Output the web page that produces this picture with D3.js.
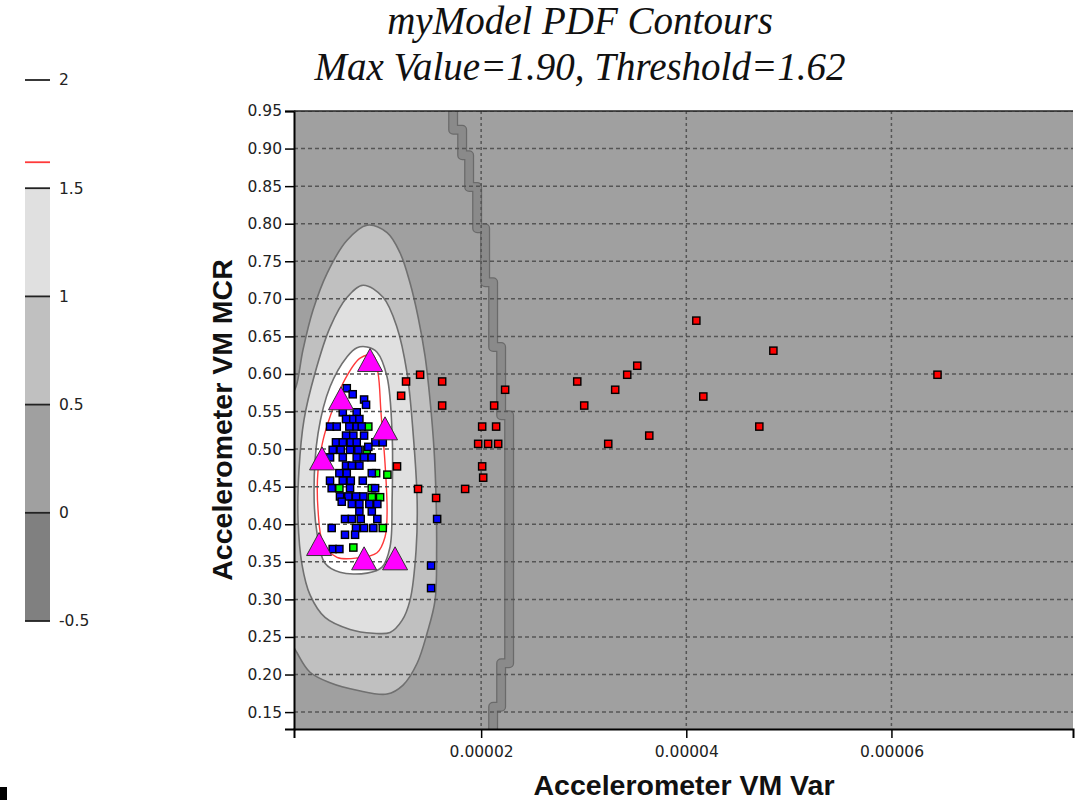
<!DOCTYPE html>
<html>
<head>
<meta charset="utf-8">
<script src="https://cdn.jsdelivr.net/npm/d3@7"></script>
<style>
  html, body { margin: 0; padding: 0; background: #ffffff; }
  svg { display: block; }
</style>
</head>
<body>
<svg id="chart" width="1076" height="800"></svg>
<script>
// ---------------- DATA ----------------
const titleLines = ["myModel PDF Contours", "Max Value=1.90, Threshold=1.62"];
const xLabel = "Accelerometer VM Var";
const yLabel = "Accelerometer VM MCR";

const xDomain = [1.756e-6, 7.77e-5];
const yDomain = [0.1275, 0.95];
const xTicks = [2e-5, 4e-5, 6e-5];
const yTicks = [0.15, 0.20, 0.25, 0.30, 0.35, 0.40, 0.45, 0.50, 0.55, 0.60, 0.65, 0.70, 0.75, 0.80, 0.85, 0.90, 0.95];

const legendLevels = [-0.5, 0, 0.5, 1, 1.5, 2];
const legendBandColors = ["#808080", "#a0a0a0", "#c0c0c0", "#e0e0e0"];
const thresholdLevel = 1.62;

// contour outlines (Var, MCR)
const contour05 = [[8.88e-6,0.798],[10.83e-6,0.788],[12.10e-6,0.761],[13.07e-6,0.721],[13.85e-6,0.676],[14.54e-6,0.623],[15.02e-6,0.565],[15.41e-6,0.499],[15.61e-6,0.432],[15.66e-6,0.366],[15.51e-6,0.299],[14.73e-6,0.255],[13.76e-6,0.215],[12.39e-6,0.186],[10.83e-6,0.174],[7.90e-6,0.179],[5.27e-6,0.189],[3.32e-6,0.203],[2.05e-6,0.229],[0.98e-6,0.259],[0.20e-6,0.352],[0.68e-6,0.499],[1.27e-6,0.565],[1.95e-6,0.583],[2.63e-6,0.632],[3.61e-6,0.685],[4.98e-6,0.734],[6.93e-6,0.778]];
const contour10 = [[8.49e-6,0.718],[10.44e-6,0.702],[11.80e-6,0.662],[12.78e-6,0.601],[13.37e-6,0.521],[13.76e-6,0.432],[13.66e-6,0.366],[13.07e-6,0.299],[12.29e-6,0.272],[11.12e-6,0.256],[9.46e-6,0.255],[7.22e-6,0.260],[4.78e-6,0.276],[3.32e-6,0.306],[2.54e-6,0.346],[2.15e-6,0.406],[2.24e-6,0.472],[2.73e-6,0.539],[3.80e-6,0.601],[5.27e-6,0.662],[6.93e-6,0.702]];
const contour15 = [[8.88e-6,0.636],[9.85e-6,0.629],[10.83e-6,0.596],[11.32e-6,0.521],[11.32e-6,0.432],[11.12e-6,0.370],[10.34e-6,0.343],[8.88e-6,0.335],[6.24e-6,0.336],[4.78e-6,0.348],[4.00e-6,0.388],[3.71e-6,0.442],[4.10e-6,0.521],[5.27e-6,0.583],[6.93e-6,0.623],[7.90e-6,0.635]];
const contourThreshold = [[9.46e-6,0.625],[9.95e-6,0.601],[10.24e-6,0.548],[10.63e-6,0.481],[10.83e-6,0.415],[10.63e-6,0.383],[9.85e-6,0.362],[7.90e-6,0.355],[5.95e-6,0.356],[4.59e-6,0.375],[4.10e-6,0.419],[4.10e-6,0.472],[4.59e-6,0.512],[5.27e-6,0.543],[6.54e-6,0.588],[8.20e-6,0.621]];
// stepped zero-level band: Var position and the MCR where each step ends
const wallVar = [17.27e-6, 18.15e-6, 18.83e-6, 19.61e-6, 20.39e-6, 21.17e-6, 21.95e-6, 22.73e-6, 21.95e-6, 21.17e-6];
const wallStepMcr = [0.925, 0.891, 0.849, 0.794, 0.722, 0.636, 0.545, 0.215, 0.157, 0.1275];

const bluePts = [[6.90e-6,0.581],[7.48e-6,0.573],[8.59e-6,0.566],[8.78e-6,0.559],[6.51e-6,0.549],[7.87e-6,0.549],[6.83e-6,0.540],[7.54e-6,0.540],[8.13e-6,0.540],[5.27e-6,0.530],[5.92e-6,0.530],[7.15e-6,0.530],[7.87e-6,0.530],[8.36e-6,0.530],[6.83e-6,0.518],[7.54e-6,0.518],[8.59e-6,0.518],[5.85e-6,0.509],[6.51e-6,0.509],[7.29e-6,0.509],[7.87e-6,0.509],[9.69e-6,0.509],[10.41e-6,0.509],[5.53e-6,0.499],[6.31e-6,0.499],[7.22e-6,0.499],[8.03e-6,0.499],[9.00e-6,0.503],[6.51e-6,0.489],[7.87e-6,0.489],[8.59e-6,0.489],[9.34e-6,0.489],[5.27e-6,0.489],[6.83e-6,0.478],[7.39e-6,0.478],[8.13e-6,0.478],[6.18e-6,0.468],[6.90e-6,0.468],[9.34e-6,0.468],[5.27e-6,0.458],[6.51e-6,0.458],[7.29e-6,0.458],[8.46e-6,0.458],[5.43e-6,0.448],[7.22e-6,0.448],[9.66e-6,0.448],[6.24e-6,0.437],[7.05e-6,0.437],[7.80e-6,0.437],[8.52e-6,0.437],[6.41e-6,0.430],[7.39e-6,0.427],[8.13e-6,0.427],[9.10e-6,0.427],[9.88e-6,0.427],[8.13e-6,0.417],[9.34e-6,0.417],[6.73e-6,0.407],[7.39e-6,0.407],[8.26e-6,0.407],[9.88e-6,0.407],[5.43e-6,0.395],[7.80e-6,0.395],[8.59e-6,0.395],[9.49e-6,0.395],[6.73e-6,0.386],[7.71e-6,0.386],[5.53e-6,0.367],[6.18e-6,0.367],[15.71e-6,0.407],[15.12e-6,0.345],[15.12e-6,0.315]];
const greenPts = [[9.00e-6,0.530],[8.85e-6,0.499],[9.76e-6,0.468],[10.86e-6,0.466],[6.18e-6,0.448],[9.34e-6,0.448],[9.34e-6,0.436],[10.15e-6,0.436],[10.41e-6,0.395],[7.54e-6,0.369]];
const redPts = [[12.68e-6,0.590],[14.05e-6,0.599],[16.20e-6,0.590],[12.20e-6,0.571],[16.20e-6,0.558],[22.34e-6,0.579],[21.27e-6,0.558],[20.10e-6,0.530],[21.46e-6,0.530],[19.71e-6,0.507],[20.68e-6,0.507],[21.66e-6,0.507],[20.10e-6,0.477],[20.20e-6,0.462],[18.44e-6,0.447],[13.85e-6,0.447],[15.61e-6,0.435],[11.80e-6,0.477],[40.98e-6,0.671],[48.49e-6,0.631],[35.22e-6,0.611],[34.24e-6,0.599],[29.37e-6,0.590],[33.07e-6,0.579],[30.05e-6,0.558],[41.66e-6,0.570],[64.49e-6,0.599],[47.12e-6,0.530],[36.39e-6,0.518],[32.39e-6,0.507]];
const trianglePts = [[9.17e-6,0.618],[6.34e-6,0.567],[10.63e-6,0.527],[4.49e-6,0.487],[4.20e-6,0.373],[8.59e-6,0.354],[11.61e-6,0.354]];

// ---------------- DRAW ----------------
const svg = d3.select("#chart");
const plot = {left: 294, right: 1073, top: 111, bottom: 729};

const x = d3.scaleLinear().domain(xDomain).range([plot.left, plot.right]);
const y = d3.scaleLinear().domain(yDomain).range([plot.bottom, plot.top]);

svg.append("defs").append("clipPath").attr("id", "plotClip")
  .append("rect").attr("x", plot.left).attr("y", plot.top)
  .attr("width", plot.right - plot.left).attr("height", plot.bottom - plot.top);

// Title
svg.selectAll("text.title").data(titleLines).join("text")
  .attr("class", "title")
  .attr("x", 580).attr("y", (d, i) => 34 + i * 46)
  .attr("text-anchor", "middle")
  .style("font-family", "'Liberation Serif', 'Times New Roman', serif")
  .style("font-style", "italic")
  .style("font-size", "39px")
  .style("fill", "#111")
  .text(d => d);

const gPlot = svg.append("g").attr("clip-path", "url(#plotClip)");
gPlot.append("rect").attr("x", plot.left).attr("y", plot.top)
  .attr("width", plot.right - plot.left).attr("height", plot.bottom - plot.top)
  .attr("fill", "#a0a0a0");

const closedLine = d3.line().x(d => x(d[0])).y(d => y(d[1])).curve(d3.curveCatmullRomClosed.alpha(0.5));

[[contour05, "#c0c0c0"], [contour10, "#e0e0e0"], [contour15, "#ffffff"]].forEach(([pts, fill]) => {
  gPlot.append("path").attr("d", closedLine(pts))
    .attr("fill", fill).attr("stroke", "#707070").attr("stroke-width", 1.6);
});
gPlot.append("path").attr("d", closedLine(contourThreshold))
  .attr("fill", "none").attr("stroke", "#ff3a3a").attr("stroke-width", 1.4);

// stepped wall
const wallPts = [];
let prevMcr = yDomain[1];
wallVar.forEach((v, i) => {
  wallPts.push([v, prevMcr]);
  wallPts.push([v, wallStepMcr[i]]);
  prevMcr = wallStepMcr[i];
});
const stepLine = d3.line().x(d => x(d[0])).y(d => y(d[1]));
gPlot.append("path").attr("d", stepLine(wallPts)).attr("fill", "none")
  .attr("stroke", "#6a6a6a").attr("stroke-width", 10).attr("stroke-linejoin", "round");
gPlot.append("path").attr("d", stepLine(wallPts)).attr("fill", "none")
  .attr("stroke", "#8a8a8a").attr("stroke-width", 7.5).attr("stroke-linejoin", "round");

// gridlines
gPlot.selectAll("line.hgrid").data(yTicks).join("line")
  .attr("x1", plot.left).attr("x2", plot.right)
  .attr("y1", d => y(d)).attr("y2", d => y(d))
  .attr("stroke", "#555").attr("stroke-width", 1.5).attr("stroke-dasharray", "4,3");
gPlot.selectAll("line.vgrid").data(xTicks).join("line")
  .attr("y1", plot.top).attr("y2", plot.bottom)
  .attr("x1", d => x(d)).attr("x2", d => x(d))
  .attr("stroke", "#555").attr("stroke-width", 1.5).attr("stroke-dasharray", "3,3");

// points
function squares(data, color) {
  gPlot.append("g").selectAll("rect").data(data).join("rect")
    .attr("x", d => x(d[0]) - 3.6).attr("y", d => y(d[1]) - 3.6)
    .attr("width", 7.2).attr("height", 7.2)
    .attr("fill", color).attr("stroke", "#000").attr("stroke-width", 1.4);
}
squares(redPts, "#ff0000");
squares(greenPts, "#00ff00");
squares(bluePts, "#0000ff");

gPlot.append("g").selectAll("path").data(trianglePts).join("path")
  .attr("transform", d => `translate(${x(d[0])},${y(d[1])})`)
  .attr("d", "M0,-12L12.5,11L-12.5,11Z")
  .attr("fill", "#ff00ff").attr("stroke", "#333").attr("stroke-width", 1);

// axes
const tickFont = "'DejaVu Sans', Verdana, sans-serif";
const yAxis = d3.axisLeft(y).tickValues(yTicks).tickFormat(d3.format(".2f")).tickSize(9).tickPadding(3);
const gy = svg.append("g").attr("transform", `translate(${plot.left},0)`).call(yAxis);
gy.select(".domain").attr("stroke", "#000").attr("stroke-width", 2);
gy.selectAll(".tick line").attr("stroke", "#000").attr("stroke-width", 1.5);
gy.selectAll(".tick text").style("font-family", tickFont).style("font-size", "15.5px").attr("fill", "#222");

const xAxis = d3.axisBottom(x).tickValues(xTicks).tickFormat(d3.format(".5f")).tickSize(9).tickPadding(8);
const gx = svg.append("g").attr("transform", `translate(0,${plot.bottom})`).call(xAxis);
gx.select(".domain").attr("stroke", "#000").attr("stroke-width", 2);
gx.selectAll(".tick line").attr("stroke", "#000").attr("stroke-width", 1.5);
gx.selectAll(".tick text").style("font-family", tickFont).style("font-size", "15.5px").attr("fill", "#222");

svg.append("line").attr("x1", plot.left).attr("x2", plot.right)
  .attr("y1", plot.top).attr("y2", plot.top).attr("stroke", "#222").attr("stroke-width", 1.5);

// axis titles
svg.append("text").attr("x", 684).attr("y", 795).attr("text-anchor", "middle")
  .style("font-family", "'Liberation Sans', Arial, sans-serif").style("font-weight", "bold")
  .style("font-size", "28.5px").attr("fill", "#111").text(xLabel);
svg.append("text").attr("transform", "translate(232,420) rotate(-90)").attr("text-anchor", "middle")
  .style("font-family", "'Liberation Sans', Arial, sans-serif").style("font-weight", "bold")
  .style("font-size", "28.5px").attr("fill", "#111").text(yLabel);

// legend
const ly = d3.scaleLinear().domain([-0.5, 2]).range([621, 80]);
const gL = svg.append("g");
legendBandColors.forEach((c, i) => {
  gL.append("rect").attr("x", 25).attr("width", 25)
    .attr("y", ly(legendLevels[i + 1])).attr("height", ly(legendLevels[i]) - ly(legendLevels[i + 1]))
    .attr("fill", c);
});
gL.selectAll("line.lv").data(legendLevels).join("line")
  .attr("x1", 25).attr("x2", 50).attr("y1", d => ly(d)).attr("y2", d => ly(d))
  .attr("stroke", "#222").attr("stroke-width", 1.8);
gL.append("line").attr("x1", 25).attr("x2", 50)
  .attr("y1", ly(thresholdLevel)).attr("y2", ly(thresholdLevel))
  .attr("stroke", "#ff3a3a").attr("stroke-width", 1.8);
gL.selectAll("text").data(legendLevels).join("text")
  .attr("x", 59).attr("y", d => ly(d)).attr("dy", "0.35em")
  .style("font-family", tickFont).style("font-size", "15.5px").attr("fill", "#222")
  .text(d => String(d));

// small corner mark
svg.append("rect").attr("x", 0).attr("y", 787).attr("width", 7).attr("height", 13).attr("fill", "#000");
</script>
</body>
</html>
